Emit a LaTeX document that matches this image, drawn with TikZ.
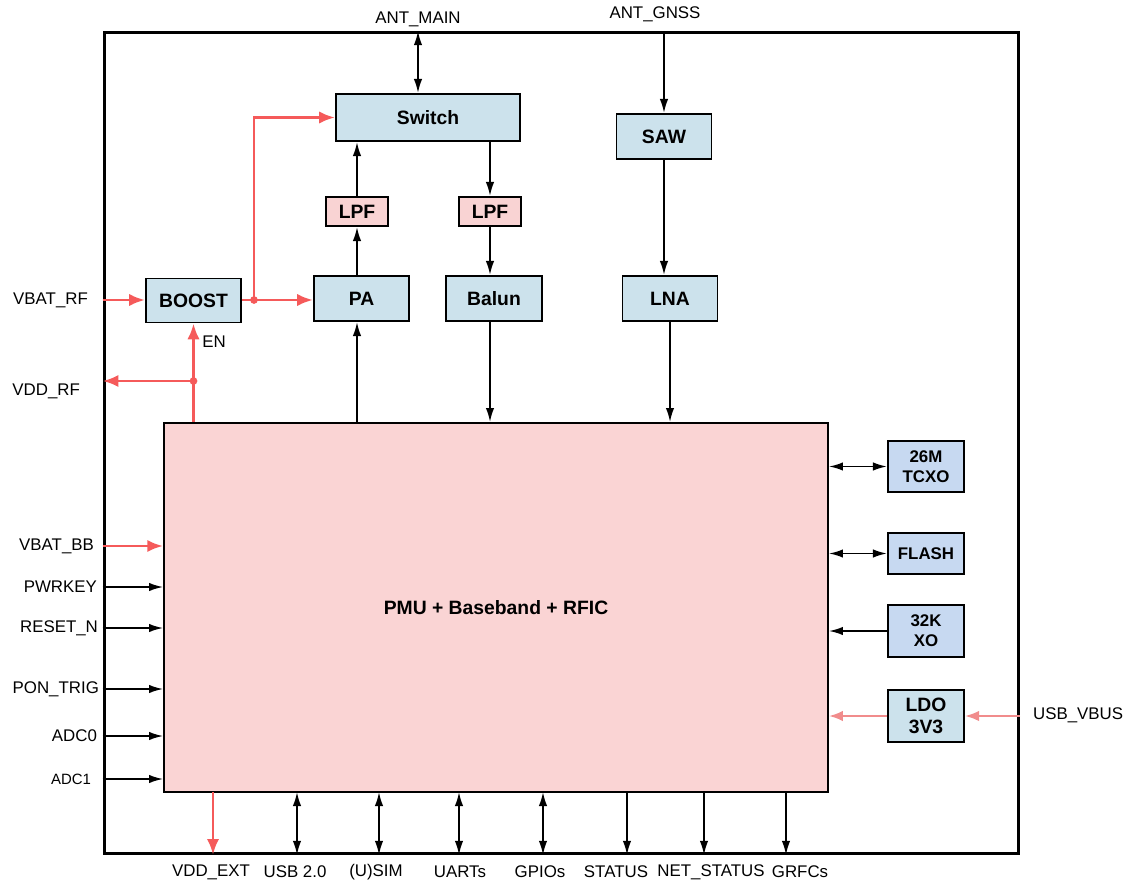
\documentclass[tikz,border=0pt]{standalone}
\usepackage{fontspec}
\setmainfont{Liberation Sans}
\usetikzlibrary{arrows.meta}

\definecolor{rfblue}{RGB}{204,226,236}
\definecolor{lpfpink}{RGB}{249,211,211}
\definecolor{socpink}{RGB}{250,212,212}
\definecolor{xtalblue}{RGB}{199,217,241}
\definecolor{pwrred}{RGB}{245,90,90}
\definecolor{ldored}{RGB}{241,140,140}

\tikzset{
  blk/.style={draw, line width=1.1pt, fill=rfblue, inner sep=0pt, align=center,
    font=\fontsize{11}{12.5}\selectfont\bfseries},
  lpf/.style={blk, fill=lpfpink},
  xtal/.style={blk, fill=xtalblue, font=\fontsize{9.6}{11.5}\selectfont\bfseries},
  lbl/.style={inner sep=1pt, font=\fontsize{9.6}{11}\selectfont},
  sig/.style={line width=1pt, -{Latex[length=8pt,width=4.8pt]}},
  bidir/.style={line width=1pt, {Latex[length=8pt,width=4.8pt]}-{Latex[length=8pt,width=4.8pt]}},
  pwr/.style={line width=1.7pt, draw=pwrred, -{Latex[length=9pt,width=7pt]}},
  ldo/.style={line width=1.3pt, draw=ldored, -{Latex[length=8pt,width=6pt]}},
}

\begin{document}
\begin{tikzpicture}[x=0.02cm, y=-0.02cm]
  \useasboundingbox (0,0) rectangle (1133,888);

  % module outline and the main chip
  \node[draw, line width=1.7pt, minimum width=18.3cm, minimum height=16.42cm, inner sep=0pt] (module) at (561.5,443) {};
  \node[draw, line width=1.1pt, fill=socpink, minimum width=13.28cm, minimum height=7.38cm,
    font=\fontsize{11}{12.5}\selectfont\bfseries] (main) at (496,607.5) {PMU + Baseband + RFIC};

  % RF front end
  \node[blk, minimum width=3.68cm, minimum height=0.94cm] (switch) at (428,117.5) {Switch};
  \node[blk, minimum width=1.9cm, minimum height=0.9cm] (saw) at (664,136.5) {SAW};
  \node[lpf, minimum width=1.24cm, minimum height=0.58cm] (lpfa) at (357,211.5) {LPF};
  \node[lpf, minimum width=1.24cm, minimum height=0.58cm] (lpfb) at (490,211.5) {LPF};
  \node[blk, minimum width=1.9cm, minimum height=0.9cm] (pa) at (361.5,298.5) {PA};
  \node[blk, minimum width=1.92cm, minimum height=0.9cm] (balun) at (494,298.5) {Balun};
  \node[blk, minimum width=1.9cm, minimum height=0.9cm] (lna) at (670,298.5) {LNA};
  \node[blk, minimum width=1.9cm, minimum height=0.88cm] (boost) at (193.5,300.5) {BOOST};

  % clocks, memory, ldo
  \node[xtal, minimum width=1.52cm, minimum height=1.02cm] (tcxo) at (926,466.5) {26M\\TCXO};
  \node[xtal, minimum width=1.52cm, minimum height=0.82cm] (flash) at (926,553.5) {FLASH};
  \node[xtal, minimum width=1.52cm, minimum height=1.04cm] (xo) at (926,631) {32K\\XO};
  \node[blk, minimum width=1.52cm, minimum height=1.04cm] (ldo) at (926,716) {LDO\\3V3};

  % pin labels
  \node[lbl] (antmain) at (418,19) {ANT\_MAIN};
  \node[lbl] (antgnss) at (655,14) {ANT\_GNSS};
  \node[lbl, anchor=east] (vbatrf) at (90,300) {VBAT\_RF};
  \node[lbl, anchor=east] (vddrf) at (82,391) {VDD\_RF};
  \node[lbl] (en) at (214,342) {EN};
  \node[lbl, anchor=east] (vbatbb) at (96,546) {VBAT\_BB};
  \node[lbl, anchor=east] (pwrkey) at (99,587) {PWRKEY};
  \node[lbl, anchor=east] (resetn) at (100,628) {RESET\_N};
  \node[lbl, anchor=east] (pontrig) at (101,689) {PON\_TRIG};
  \node[lbl, anchor=east] (adczero) at (99,736) {ADC0};
  \node[lbl, anchor=east, font=\fontsize{8.5}{10}\selectfont] (adcone) at (93,779) {ADC1};
  \node[lbl, anchor=west] (usbvbus) at (1031,715) {USB\_VBUS};
  \node[lbl] (vddext) at (211,872) {VDD\_EXT};
  \node[lbl] (usb) at (295,872) {USB 2.0};
  \node[lbl] (usim) at (376,872) {(U)SIM};
  \node[lbl] (uarts) at (460,872) {UARTs};
  \node[lbl] (gpios) at (540,872) {GPIOs};
  \node[lbl] (status) at (616,872) {STATUS};
  \node[lbl] (netstatus) at (711,872) {NET\_STATUS};
  \node[lbl] (grfcs) at (800,872) {GRFCs};

  % bottom pins of the chip
  \coordinate (pvddext) at (213,792);
  \coordinate (pusb) at (297,792);
  \coordinate (pusim) at (379,792);
  \coordinate (puarts) at (459,792);
  \coordinate (pgpios) at (543,792);
  \coordinate (pstatus) at (627,792);
  \coordinate (pnetstatus) at (704,792);
  \coordinate (pgrfcs) at (786,792);

  % junctions on the power lines
  \coordinate (jsw) at (254,300);
  \coordinate (jen) at (193.5,381);

  % antenna paths
  \draw[bidir] (antmain |- module.north) -- (antmain |- switch.north);
  \draw[sig] (saw |- module.north) -- (saw.north);
  \draw[sig] (pa.north -| lpfa) -- (lpfa.south);
  \draw[sig] (lpfa.north) -- (lpfa |- switch.south);
  \draw[sig] (lpfb |- switch.south) -- (lpfb.north);
  \draw[sig] (lpfb.south) -- (lpfb |- balun.north);
  \draw[sig] (lpfa |- main.north) -- (lpfa |- pa.south);
  \draw[sig] (lpfb |- balun.south) -- (lpfb |- main.north);
  \draw[sig] (saw.south) -- (saw |- lna.north);
  \draw[sig] (lna.south) -- (lna |- main.north);

  % power for the RF part
  \draw[pwr] (vbatrf -| module.west) -- (vbatrf -| boost.west);
  \draw[pwr] (boost.east |- jsw) -- (jsw -| pa.west);
  \draw[pwr] (jsw) |- (switch.west);
  \draw[pwr] (boost |- main.north) -- (boost.south);
  \draw[pwr] (jen) -- (jen -| module.west);
  \fill[pwrred] (jsw) circle (2.2pt);
  \fill[pwrred] (jen) circle (2.2pt);

  % left inputs
  \draw[pwr] (vbatbb -| module.west) -- (vbatbb -| main.west);
  \draw[sig] (pwrkey -| module.west) -- (pwrkey -| main.west);
  \draw[sig] (resetn -| module.west) -- (resetn -| main.west);
  \draw[sig] (pontrig -| module.west) -- (pontrig -| main.west);
  \draw[sig] (adczero -| module.west) -- (adczero -| main.west);
  \draw[sig] (adcone -| module.west) -- (adcone -| main.west);

  % right side
  \draw[bidir] (tcxo.west -| main.east) -- (tcxo.west);
  \draw[bidir] (flash.west -| main.east) -- (flash.west);
  \draw[sig] (xo.west) -- (xo.west -| main.east);
  \draw[ldo] (ldo.west) -- (ldo.west -| main.east);
  \draw[ldo] (ldo.east -| module.east) -- (ldo.east);

  % bottom outputs
  \draw[pwr] (pvddext) -- (pvddext |- module.south);
  \draw[bidir] (pusb) -- (pusb |- module.south);
  \draw[bidir] (pusim) -- (pusim |- module.south);
  \draw[bidir] (puarts) -- (puarts |- module.south);
  \draw[bidir] (pgpios) -- (pgpios |- module.south);
  \draw[sig] (pstatus) -- (pstatus |- module.south);
  \draw[sig] (pnetstatus) -- (pnetstatus |- module.south);
  \draw[sig] (pgrfcs) -- (pgrfcs |- module.south);
\end{tikzpicture}
\end{document}
